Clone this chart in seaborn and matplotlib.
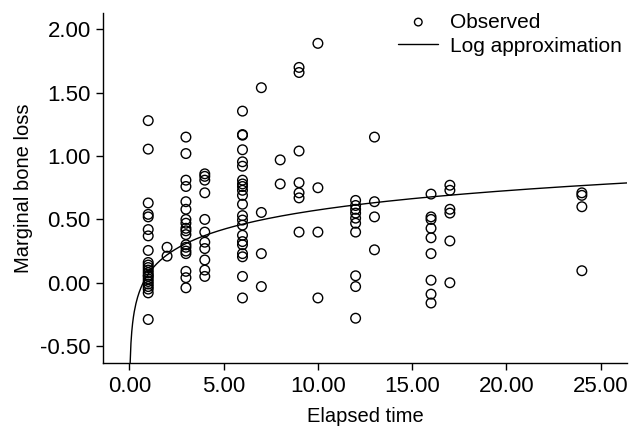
import numpy as np
import pandas as pd
import matplotlib
matplotlib.use("Agg")
import matplotlib.pyplot as plt
import seaborn as sns

# ---- observed marginal bone loss, grouped by elapsed time ----
t1 = [1.28, 1.055, 0.63, 0.54, 0.52, 0.42, 0.37, 0.255, 0.16, 0.14, 0.12,
      0.10, 0.08, 0.06, 0.05, 0.03, 0.01, -0.01, -0.03, -0.05, -0.08, -0.29]
t2 = [0.28, 0.21]
t3 = [1.15, 1.02, 0.81, 0.76, 0.64, 0.58, 0.50, 0.47, 0.43, 0.41, 0.38,
      0.30, 0.28, 0.25, 0.23, 0.09, 0.04, -0.04]
t4 = [0.86, 0.84, 0.81, 0.71, 0.50, 0.40, 0.32, 0.27, 0.18, 0.10, 0.05]
t6 = [1.355, 1.17, 1.165, 1.05, 0.955, 0.92, 0.81, 0.78, 0.76, 0.73, 0.69,
      0.62, 0.53, 0.495, 0.455, 0.375, 0.325, 0.30, 0.23, 0.205, 0.05, -0.12]
t7 = [1.54, 0.555, 0.23, -0.03]
t8 = [0.97, 0.78]
t9 = [1.70, 1.66, 1.04, 0.79, 0.71, 0.67, 0.40]
t10 = [1.89, 0.75, 0.40, -0.12]
t12 = [0.65, 0.61, 0.58, 0.55, 0.51, 0.47, 0.40, 0.055, -0.03, -0.28]
t13 = [1.15, 0.64, 0.52, 0.26]
t16 = [0.70, 0.52, 0.50, 0.43, 0.355, 0.23, 0.02, -0.09, -0.16]
t17 = [0.77, 0.73, 0.58, 0.55, 0.33, 0.0]
t24 = [0.71, 0.69, 0.60, 0.095]

groups = {1: t1, 2: t2, 3: t3, 4: t4, 6: t6, 7: t7, 8: t8, 9: t9, 10: t10,
          12: t12, 13: t13, 16: t16, 17: t17, 24: t24}

# log approximation y = a + b*ln(t)
log_a = 0.068
log_b = 0.22

rows = []
for t, vals in groups.items():
    for v in vals:
        rows.append({"time": t, "loss": v})
df = pd.DataFrame(rows)

sns.set_style("white")
plt.rcParams["font.family"] = ["Liberation Sans", "DejaVu Sans"]
plt.rcParams["text.color"] = "black"
plt.rcParams["axes.labelcolor"] = "black"
plt.rcParams["xtick.color"] = "black"
plt.rcParams["ytick.color"] = "black"

fig = plt.figure(figsize=(6.29, 4.32), dpi=100)
ax = fig.add_axes([0.164, 0.159, 0.833, 0.811])

sns.scatterplot(data=df, x="time", y="loss", ax=ax, marker="o", s=48,
                facecolor="none", edgecolor="black", linewidth=1.0,
                label="Observed")

tt = np.linspace(0.04, 26.4, 600)
curve = pd.DataFrame({"time": tt, "loss": log_a + log_b * np.log(tt)})
sns.lineplot(data=curve, x="time", y="loss", ax=ax, color="black",
             linewidth=1.0, label="Log approximation")

ax.set_xlim(-1.39, 26.4)
ax.set_ylim(-0.636, 2.13)
ax.set_xticks([0, 5, 10, 15, 20, 25])
ax.set_yticks([-0.5, 0, 0.5, 1.0, 1.5, 2.0])
ax.set_xticklabels([f"{v:.2f}" for v in ax.get_xticks()])
ax.set_yticklabels([f"{v:.2f}" for v in ax.get_yticks()])
ax.tick_params(axis="both", direction="out", length=5, width=1,
               labelsize=16, color="black", labelcolor="black",
               bottom=True, left=True, pad=4)

for side in ["top", "right"]:
    ax.spines[side].set_visible(False)
for side in ["left", "bottom"]:
    ax.spines[side].set_color("black")
    ax.spines[side].set_linewidth(1.0)

ax.set_xlabel("Elapsed time", fontsize=14.5, labelpad=7, color="black")
ax.set_ylabel("Marginal bone loss", fontsize=14.5, labelpad=5, color="black")

leg = ax.legend(loc="upper right", bbox_to_anchor=(1.005, 1.025), frameon=False,
                fontsize=15, handlelength=1.9, handletextpad=0.55,
                labelspacing=0.25, borderaxespad=0, labelcolor="black")
leg.legend_handles[0].set_sizes([30])

fig.savefig("out.png", dpi=100)
